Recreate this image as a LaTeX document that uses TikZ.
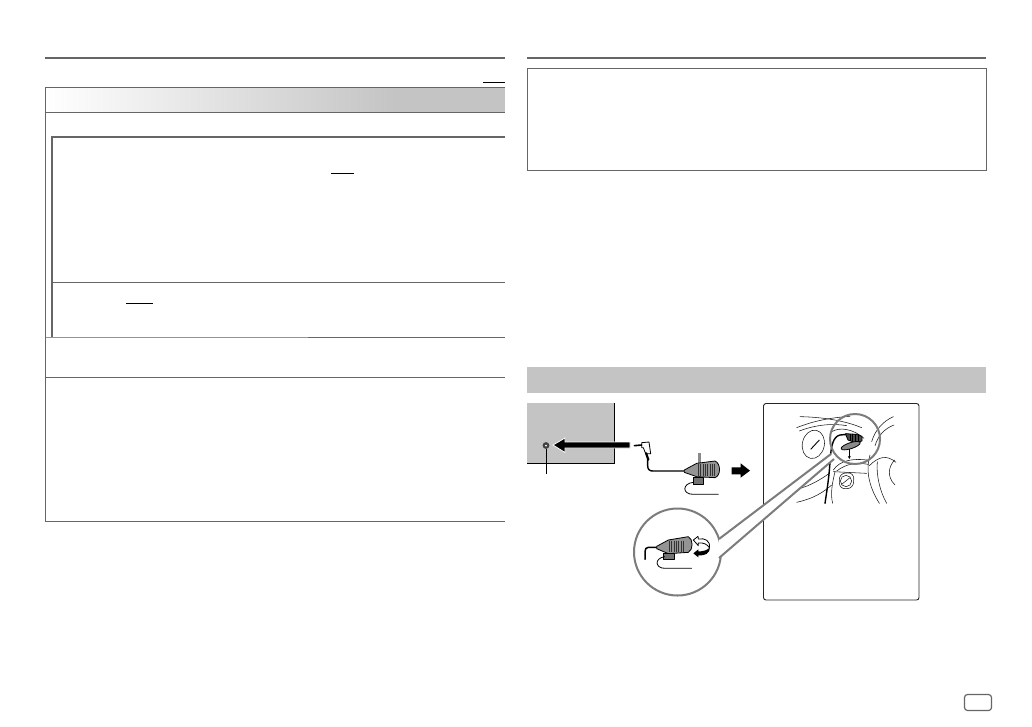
\documentclass[tikz,border=0pt]{standalone}
\usetikzlibrary{arrows.meta}
\definecolor{rulegray}{HTML}{666666}
\definecolor{bandgray}{HTML}{C4C4C4}
\definecolor{ringgray}{HTML}{7C7C7C}
\definecolor{micgray}{HTML}{8A8A8A}
\tikzset{
  rulemain/.style={draw=rulegray,line width=2pt},
  rulethin/.style={draw=rulegray,line width=1pt},
  ruleink/.style={draw=black,line width=1pt},
  ring/.style={draw=ringgray,line width=2pt},
  ink/.style={draw=black,line width=0.8pt,line cap=round,line join=round},
  wire/.style={draw=black,line width=1.4pt,line cap=round,line join=round},
  thinink/.style={draw=black!90,line width=0.55pt,line cap=round},
  zoomA/.style={shift={(625,435)},scale=0.33333},
  zoomB/.style={shift={(630,505)},scale=0.33333},
  zoomC/.style={shift={(790,405)},scale=0.33333},
}
\begin{document}
\begin{tikzpicture}[x=1pt,y=-1pt]
\useasboundingbox (0,0) rectangle (1032,726);
\fill[white] (0,0) rectangle (1032,726);

% left column
\draw[rulemain] (45,58) -- (505,58);
\draw[ruleink] (483,82.3) -- (505,82.3);
\shade[left color=white,right color=bandgray] (46,87.5) rectangle (395,112);
\fill[bandgray] (395,87.5) rectangle (505,112);
\draw[rulethin] (505,87.3) -- (45.5,87.3) -- (45.5,521) -- (505,521);
\draw[rulethin] (45.5,112.3) -- (505,112.3);
\draw[rulemain] (505,137) -- (52,137) -- (52,337.5);
\draw[rulethin] (52,282.5) -- (505,282.5);
\draw[ruleink] (331,173.5) -- (354,173.5);
\draw[ruleink] (126,303.5) -- (153,303.5);
\draw[draw=rulegray!70,line width=1pt] (45.5,337.5) -- (308,337.5);
\draw[rulethin] (308,337.5) -- (505,337.5);
\draw[rulethin] (45.5,377.5) -- (505,377.5);

% right column
\draw[rulemain] (527,58) -- (986,58);
\draw[rulethin] (527.5,68.5) rectangle (986.5,170.5);
\fill[bandgray] (527,367) rectangle (986,393);

% head unit panel
\fill[bandgray] (527,403) rectangle (614.5,463);
\draw[draw=black,line width=0.6pt] (614.5,403) -- (614.5,463) -- (527,463);
\fill[black!75] (546,445.5) circle (3.4);
\fill[white] (546,445.5) circle (1);
\draw[draw=black,line width=0.5pt] (546,449) -- (546,474);
\draw[draw=white,line width=0.8pt,fill=black,line join=miter]
  (630,442) -- (565,442) -- (565,438) -- (553,445) -- (565,452.5) -- (565,448) -- (630,448) -- cycle;

% microphone with plug
\begin{scope}[zoomA]
  \draw[wire,line width=1.6pt] (28,32) -- (50,30);
  \draw[ink] (50,23) -- (72,21) -- (77,56) -- (62,56) -- (55,38) -- (50,38) -- cycle;
  \draw[wire,line width=2.2pt] (63,54) -- (70,74);
  \draw[wire] (68,72) -- (68,92) .. controls (68,104) and (74,108) .. (84,108) -- (180,108);
  \fill[micgray] (218,55) rectangle (228,92);
  \draw[ink,fill=black!42] (178,105) -- (215,85) -- (270,78) .. controls (288,85) and (288,122) .. (270,128) -- (215,125) -- (178,112) -- cycle;
  \foreach \px in {220,227,234,241,248,255,262,269}{\draw[draw=black!80,line width=0.7pt] (\px,88) -- (\px,124);}
  \draw[ink,fill=black!55] (205,128) rectangle (235,149);
  \draw[ink] (205,142) .. controls (172,145) and (170,178) .. (205,178) -- (280,178);
  \fill[black] (320,97) -- (347,97) -- (347,85) -- (375,107) -- (347,128) -- (347,118) -- (320,118) -- cycle;
\end{scope}

% scene box
\draw[draw=black!85,line width=0.9pt,rounded corners=2.5pt] (763.5,403.5) rectangle (919,600);
\begin{scope}[zoomC]
  % dashboard lines
  \draw[thinink] (30,35) .. controls (90,36) and (160,45) .. (215,68);
  \draw[thinink] (20,68) .. controls (70,48) and (120,38) .. (180,34);
  \draw[thinink] (28,78) .. controls (80,58) and (130,55) .. (170,62);
  \draw[thinink] (125,80) .. controls (150,65) and (190,72) .. (222,100);
  \draw[thinink] (245,110) .. controls (255,75) and (280,48) .. (310,35);
  \draw[thinink] (255,122) .. controls (265,90) and (285,70) .. (312,60);
  \draw[thinink] (238,182) .. controls (265,155) and (290,148) .. (318,172);
  \draw[thinink] (314,165) .. controls (295,185) and (290,215) .. (315,240);
  \draw[thinink] (240,150) .. controls (225,200) and (240,250) .. (268,295);
  \draw[thinink] (262,170) .. controls (258,210) and (270,260) .. (290,295);
  \draw[thinink] (130,195) .. controls (150,165) and (190,160) .. (232,165);
  \draw[thinink] (140,198) .. controls (170,175) and (200,172) .. (235,178);
  \draw[thinink] (135,200) .. controls (128,230) and (120,265) .. (128,295);
  \draw[thinink] (20,292) .. controls (50,285) and (85,275) .. (125,240);
  \draw[thinink] (30,250) .. controls (60,242) and (90,225) .. (118,205);
  \draw[thinink] (130,200) -- (230,205);
  % gauge
  \draw[thinink,rotate around={-12:(70,118)}] (70,118) ellipse (33 and 43);
  \draw[draw=black,line width=0.9pt] (62,133) -- (88,105);
  % vent
  \draw[thinink,rounded corners=6pt] (148,205) -- (192,203) -- (190,250) -- (148,252) -- cycle;
  \draw[thinink] (168,228) circle (17);
  \draw[thinink] (155,238) -- (180,218);
  % cable and mic
  \draw[wire] (172,88) -- (150,90) .. controls (128,95) and (123,125) .. (120,170) .. controls (117,220) and (110,260) .. (105,295);
  \draw[ink,fill=black!70] (166,86) -- (200,88) -- (216,94) -- (216,108) -- (196,113) -- (174,105) -- cycle;
  \foreach \px in {180,188,196,204}{\draw[draw=black,line width=1pt] (\px,88) -- (\px,109);}
  \draw[ink,fill=micgray,rotate around={18:(182,122)}] (182,122) ellipse (30 and 9);
  \draw[-{Stealth[length=3pt,width=3pt]},draw=black,line width=0.8pt] (178,132) -- (178,162);
\end{scope}

% zoom ring on scene, large ring and band
\draw[ring] (855,439) circle (25);
\draw[ring] (677.5,552) circle (43.5);
\fill[white] (719,539) -- (831,454) -- (834,459) -- (719,558) -- cycle;
\draw[ring] (719,539) -- (831,454);
\draw[ring] (719,558) -- (834,459);

% microphone detail
\begin{scope}[zoomB]
  \draw[wire,line width=1.5pt] (82,127) -- (55,127) .. controls (48,127) and (45,132) .. (45,140) -- (45,163);
  \draw[ink,fill=black!42] (80,124) -- (115,105) -- (175,95) .. controls (190,102) and (190,135) .. (175,142) -- (115,146) -- (80,131) -- cycle;
  \foreach \px in {118,125,132,139,146,153,160}{\draw[draw=black!80,line width=0.7pt] (\px,107) -- (\px,140);}
  \draw[ink,fill=black!55] (101,146) rectangle (133,162);
  \draw[ink] (104,155) .. controls (72,160) and (75,190) .. (105,190) -- (185,190);
  \draw[ink,fill=white] (190,105) -- (204,94) -- (205,102) .. controls (225,98) and (242,108) .. (238,128) .. controls (232,118) and (220,112) .. (205,114) -- (205,122) -- cycle;
  \fill[black] (190,145) -- (205,133) -- (205,139) .. controls (220,140) and (232,135) .. (240,127) .. controls (240,145) and (225,153) .. (205,151) -- (205,157) -- cycle;
\end{scope}

% page tab
\draw[draw=rulegray,line width=1.2pt,rounded corners=3pt] (964.5,694.5) rectangle (991.5,710.5);
\end{tikzpicture}
\end{document}
